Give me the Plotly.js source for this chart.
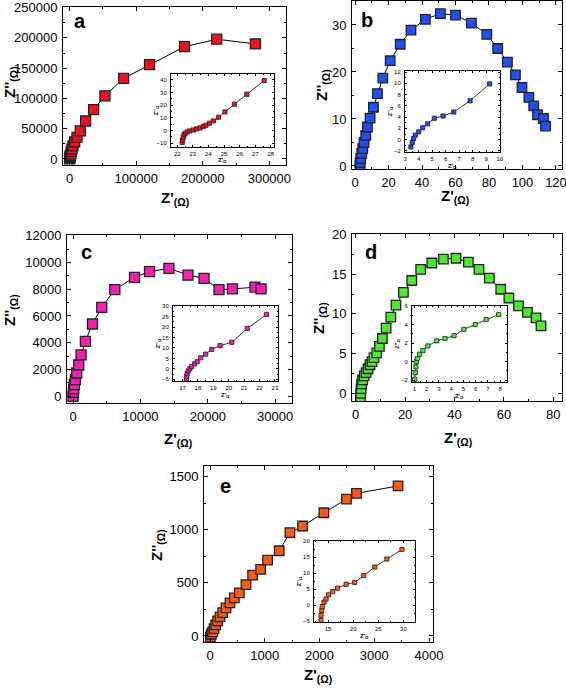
<!DOCTYPE html>
<html><head><meta charset="utf-8">
<script src="https://cdn.plot.ly/plotly-3.0.1.min.js"></script>
<style>html,body{margin:0;padding:0;background:#fff;} #chart{width:566px;height:688px;}</style>
</head><body><div id="chart"></div>
<script>
// ---------- data ----------
const aX = [0, 300, 700, 1000, 1800, 2500, 3500, 5000, 7500, 11000, 16000, 24000, 36000, 53000, 81000, 120000, 172500, 221000, 279000];
const aY = [0, 2000, 4000, 5400, 8500, 12400, 16500, 21600, 28100, 35700, 46500, 62700, 81600, 104300, 133000, 155700, 185400, 197800, 190000];
const aInX = [22.32, 22.34, 22.39, 22.43, 22.51, 22.64, 22.81, 23.03, 23.24, 23.46, 23.67, 23.84, 24.06, 24.31, 24.64, 25.06, 25.66, 26.46, 27.57];
const aInY = [-9.5, -7.4, -5.3, -3.4, -2.1, -1.1, -0.3, 0.5, 1.3, 2.1, 3.2, 4.2, 5.8, 7.6, 10.5, 14.7, 20.8, 28.7, 39.5];

const bX = [3.0, 3.0, 3.4, 4.0, 4.6, 5.4, 6.4, 7.4, 9.0, 11.0, 13.4, 16.6, 21.0, 27.0, 33.4, 42.0, 51.0, 60.0, 69.5, 78.7, 85.2, 91.0, 95.8, 99.7, 103.8, 106.7, 109.0, 112.5, 113.8];
const bY = [0, 0.7, 1.6, 2.7, 3.7, 5.0, 6.5, 8.3, 10.2, 12.5, 15.4, 18.7, 22.4, 25.9, 28.9, 31.2, 32.4, 32.1, 30.4, 28.0, 25.0, 22.1, 19.4, 16.7, 14.6, 12.8, 10.9, 10.1, 8.5];
const bInX = [3.42, 3.52, 3.62, 3.74, 4.0, 4.29, 4.66, 5.15, 5.8, 6.59, 7.8, 9.25];
const bInY = [-1.3, -0.5, 0.2, 0.8, 1.4, 2.1, 2.8, 3.8, 4.2, 4.9, 6.9, 9.9];

const cX = [0, 50, 100, 200, 350, 545, 840, 1190, 1830, 2880, 4260, 6200, 9120, 11350, 14230, 17060, 19440, 21670, 23650, 27000, 27900];
const cY = [0, 300, 550, 870, 1250, 1740, 2340, 3090, 4110, 5400, 6650, 7970, 8890, 9310, 9560, 9060, 8810, 7970, 8020, 8150, 8020];
const cInX = [17.25, 17.26, 17.3, 17.37, 17.48, 17.6, 17.78, 17.95, 18.18, 18.5, 18.9, 19.44, 20.2, 21.2, 22.45];
const cInY = [-5.0, -3.7, -2.3, -1.0, 0.1, 1.1, 2.4, 3.4, 5.3, 7.0, 9.3, 11.1, 12.7, 19.3, 26.0];

const dX = [2.0, 2.0, 2.2, 2.4, 2.8, 3.4, 4.2, 5.0, 5.8, 6.6, 7.4, 8.5, 9.6, 10.8, 12.3, 14.2, 16.3, 19.3, 22.7, 26.3, 30.8, 35.5, 40.6, 45.6, 49.9, 54.1, 58.7, 62.0, 65.9, 69.5, 73.0, 75.0];
const dY = [-0.6, 0, 0.6, 1.2, 1.7, 2.2, 2.6, 3.1, 3.6, 4.0, 4.5, 5.1, 5.9, 6.9, 8.2, 9.6, 11.1, 12.7, 14.2, 15.6, 16.4, 16.9, 17.0, 16.5, 15.6, 14.5, 13.1, 12.0, 11.0, 10.2, 9.5, 8.5];
const dInX = [1.03, 1.08, 1.13, 1.16, 1.24, 1.43, 1.7, 2.1, 2.83, 3.5, 4.23, 5.04, 5.96, 6.85, 7.87];
const dInY = [-1.9, -1.2, -0.56, 0.0, 0.34, 0.8, 1.2, 1.7, 2.25, 2.5, 2.8, 3.5, 4.0, 4.56, 5.1];

const eX = [6, 24, 49, 73, 103, 140, 182, 231, 292, 365, 444, 535, 657, 778, 924, 1052, 1264, 1459, 1690, 2079, 2492, 2675, 3435];
const eY = [-9, 16, 38, 69, 104, 141, 179, 220, 264, 311, 358, 406, 484, 572, 626, 714, 802, 972, 1035, 1160, 1289, 1343, 1412];
const eInX = [13.6, 13.6, 13.75, 13.85, 14.2, 14.6, 15.1, 15.9, 16.9, 18.6, 20.3, 22.1, 24.3, 26.7, 29.7];
const eInY = [-4.8, -3.2, -1.7, -0.5, 0.9, 1.9, 3.2, 4.2, 5.3, 6.5, 7.1, 9.2, 11.9, 14.4, 17.4];

const panelLetters = ['a', 'b', 'c', 'd', 'e'];
const mainXTitle = "<b>Z'</b><sub><b>(Ω)</b></sub>";
const mainYTitle = "<b>Z''</b><sub><b>(Ω)</b></sub>";
const inXTitle = "<b>Z'</b><sub><b>Ω</b></sub>";
const inYTitle = "<b>Z''</b><sub><b>Ω</b></sub>";

// ---------- layout config ----------
const W = 566, H = 688;
const FONT = 'Arial, "Liberation Sans", sans-serif';
const panels = [
  { x: aX, y: aY, ix: aInX, iy: aInY, color: '#f01020', ms: 10,
    box: [63, 286, 7, 165], xr: [-10000, 325000], yr: [-10000, 251000], xd: 100000, yd: 50000,
    ibox: [171, 274, 74, 147], ixr: [21.6, 28.2], iyr: [-13, 44.7], ixd: 1, iyd: 10,
    xt: [175, 199], yt: [10, 82], let: [80, 21] },
  { x: bX, y: bY, ix: bInX, iy: bInY, color: '#1f4ff5', ms: 9.5,
    box: [352, 562, 1, 169], xr: [-1.8, 123.6], yr: [-0.64, 35.1], xd: 20, yd: 10,
    ibox: [405, 500, 71, 152], ixr: [2.98, 10.02], iyr: [-2.2, 12.2], ixd: 1, iyd: 2,
    xt: [455, 197], yt: [322, 85], let: [367, 20] },
  { x: cX, y: cY, ix: cInX, iy: cInY, color: '#f020b0', ms: 10,
    box: [67, 292, 235, 403], xr: [-900, 32500], yr: [-500, 12050], xd: 10000, yd: 2000,
    ibox: [173, 278, 306, 381], ixr: [16.38, 23.2], iyr: [-5.8, 30.05], ixd: 1, iyd: 5,
    xt: [178, 439], yt: [10, 310], let: [86, 252] },
  { x: dX, y: dY, ix: dInX, iy: dInY, color: '#4ee830', ms: 9.5,
    box: [352, 562, 234, 401], xr: [-1.5, 83.5], yr: [-0.96, 20.05], xd: 20, yd: 5,
    ibox: [412, 507, 306, 382], ixr: [0.81, 8.55], iyr: [-2.2, 6.02], ixd: 1, iyd: 2,
    xt: [458, 438], yt: [320, 318], let: [371, 252] },
  { x: eX, y: eY, ix: eInX, iy: eInY, color: '#ff5a14', ms: 9.5,
    box: [204, 433, 466, 642], xr: [-110, 4073], yr: [-57, 1600], xd: 1000, yd: 500,
    ibox: [314, 415, 541, 622], ixr: [12.2, 32.3], iyr: [-5.3, 20.05], ixd: 5, iyd: 5,
    xt: [318, 675], yt: [157, 545], let: [225, 486] }
];

const data = [];
const layout = {
  width: W, height: H, margin: { l: 0, r: 0, t: 0, b: 0 },
  paper_bgcolor: '#ffffff', plot_bgcolor: 'rgba(0,0,0,0)',
  showlegend: false, font: { family: FONT, color: '#000' },
  annotations: []
};

function axis(dom, range, dtick, fs, tl, anchor, isX) {
  return {
    domain: dom, range: range, dtick: dtick, tick0: 0, anchor: anchor,
    showgrid: false, zeroline: false, showline: true, linecolor: '#000', linewidth: 1,
    mirror: 'allticks', ticks: 'inside', ticklen: tl, tickwidth: 1, tickcolor: '#000',
    minor: { ticks: 'inside', ticklen: tl * 0.55, dtick: dtick / 2, tickcolor: '#000', tickwidth: 1 },
    tickfont: { family: FONT, size: fs, color: '#000' },
    tickformat: 'd', exponentformat: 'none', separatethousands: false,
    ticklabeloverflow: 'allow',
    ticklabelstandoff: isX ? 1 : 2,
    fixedrange: true
  };
}
function px2x(p) { return p / W; }
function px2y(p) { return 1 - p / H; }
function ann(text, px, py, size, angle) {
  return { text: text, xref: 'paper', yref: 'paper', x: px2x(px), y: px2y(py),
    xanchor: 'center', yanchor: 'middle', showarrow: false, textangle: angle || 0,
    font: { family: FONT, size: size, color: '#000' } };
}

panels.forEach((p, i) => {
  const mi = 2 * i + 1, ii = 2 * i + 2;
  const mx = mi === 1 ? 'x' : 'x' + mi, my = mi === 1 ? 'y' : 'y' + mi;
  const ixn = 'x' + ii, iyn = 'y' + ii;
  data.push({ x: p.x, y: p.y, xaxis: mx, yaxis: my, type: 'scatter', mode: 'lines+markers',
    line: { color: '#000', width: 1 },
    marker: { symbol: 'square', size: p.ms, color: p.color, line: { color: '#222', width: 1.3 } } });
  data.push({ x: p.ix, y: p.iy, xaxis: ixn, yaxis: iyn, type: 'scatter', mode: 'lines+markers',
    line: { color: '#000', width: 0.8 },
    marker: { symbol: 'square', size: 4.2, color: p.color, line: { color: '#222', width: 0.8 } } });
  const b = p.box, ib = p.ibox;
  layout[mi === 1 ? 'xaxis' : 'xaxis' + mi] = axis([px2x(b[0]), px2x(b[1])], p.xr, p.xd, 13, 4, my, true);
  layout[mi === 1 ? 'yaxis' : 'yaxis' + mi] = axis([px2y(b[3]), px2y(b[2])], p.yr, p.yd, 13, 4, mx, false);
  layout['xaxis' + ii] = axis([px2x(ib[0]), px2x(ib[1])], p.ixr, p.ixd, 6, 2, iyn, true);
  layout['yaxis' + ii] = axis([px2y(ib[3]), px2y(ib[2])], p.iyr, p.iyd, 6, 2, ixn, false);
  layout.annotations.push(ann(mainXTitle, p.xt[0], p.xt[1], 15));
  layout.annotations.push(ann(mainYTitle, p.yt[0], p.yt[1], 15, -90));
  layout.annotations.push(ann('<b>' + panelLetters[i] + '</b>', p.let[0], p.let[1], 20));
  layout.annotations.push(ann(inXTitle, (ib[0] + ib[1]) / 2, ib[3] + 14, 6));
  layout.annotations.push(ann(inYTitle, ib[0] - 15, (ib[2] + ib[3]) / 2, 6, -90));
});

Plotly.newPlot('chart', data, layout, { staticPlot: true, displayModeBar: false });
</script>
</body></html>
